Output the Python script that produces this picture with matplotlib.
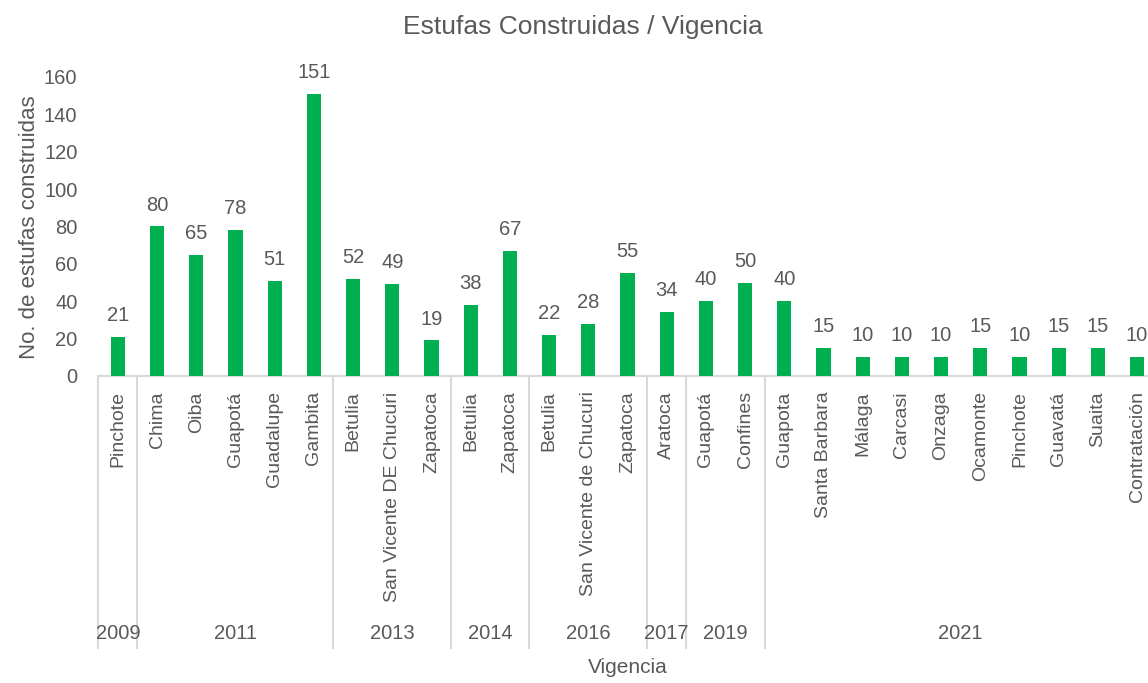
from matplotlib import pyplot as plt
import matplotlib.transforms as mtransforms

# data
YEARS = ['2009', '2011', '2013', '2014', '2016', '2017', '2019', '2021']
MUNICIPIOS = [
    ['Pinchote'],
    ['Chima', 'Oiba', 'Guapotá', 'Guadalupe', 'Gambita'],
    ['Betulia', 'San Vicente DE Chucuri', 'Zapatoca'],
    ['Betulia', 'Zapatoca'],
    ['Betulia', 'San Vicente de Chucuri', 'Zapatoca'],
    ['Aratoca'],
    ['Guapotá', 'Confines'],
    ['Guapota', 'Santa Barbara', 'Málaga', 'Carcasi', 'Onzaga',
     'Ocamonte', 'Pinchote', 'Guavatá', 'Suaita', 'Contratación'],
]
ESTUFAS = [
    [21],
    [80, 65, 78, 51, 151],
    [52, 49, 19],
    [38, 67],
    [22, 28, 55],
    [34],
    [40, 50],
    [40, 15, 10, 10, 10, 15, 10, 15, 15, 10],
]

TEXT = '#595959'
GREEN = '#00B050'
LINE = '#D9D9D9'
FS = 14.5

plt.rcParams['font.family'] = ['Liberation Sans', 'DejaVu Sans']

labels = [m for grp in MUNICIPIOS for m in grp]
values = [v for grp in ESTUFAS for v in grp]
xs = list(range(len(values)))

fig = plt.figure(figsize=(11.48, 6.83), dpi=100)
ax = fig.add_axes([0.0856, 0.4495, 0.922, 0.4378])

ax.bar(xs, values, width=0.36, color=GREEN, zorder=3)
for x, v in zip(xs, values):
    ax.annotate(str(v), (x, v), xytext=(0, 11.5), textcoords='offset points',
                ha='center', va='baseline', fontsize=FS, color=TEXT,
                annotation_clip=False)

ax.set_xlim(-0.5, len(values) - 0.5)
ax.set_ylim(0, 160)
ax.set_yticks(range(0, 161, 20))
ax.set_xticks(xs)
ax.set_xticklabels(labels, rotation=90, fontsize=14, color=TEXT)
ax.tick_params(axis='y', length=0, labelsize=FS, labelcolor=TEXT, pad=15)
ax.tick_params(axis='x', length=0, labelcolor=TEXT, pad=11)

for s in ['top', 'right', 'left']:
    ax.spines[s].set_visible(False)
ax.spines['bottom'].set_color(LINE)
ax.spines['bottom'].set_linewidth(1.5)

# year groups below the municipality labels
trans = mtransforms.blended_transform_factory(ax.transData, ax.transAxes)
start = 0
bounds = [-0.5]
for year, grp in zip(YEARS, ESTUFAS):
    end = start + len(grp)
    ax.text((start + end - 1) / 2, -0.86, year, transform=trans,
            ha='center', va='center', fontsize=FS, color=TEXT)
    bounds.append(end - 0.5)
    start = end
for b in bounds:
    ax.plot([b, b], [0, -0.91], transform=trans, color=LINE, lw=1.5,
            clip_on=False)

fig.text(0.5075, 0.961, 'Estufas Construidas / Vigencia', ha='center',
         va='center', fontsize=19, color=TEXT)
fig.text(0.5465, 0.022, 'Vigencia', ha='center', va='center',
         fontsize=15, color=TEXT)
fig.text(0.026, 0.667, 'No. de estufas construidas', ha='center',
         va='center', rotation=90, fontsize=16, color=TEXT)

fig.savefig('out.png', dpi=100)
